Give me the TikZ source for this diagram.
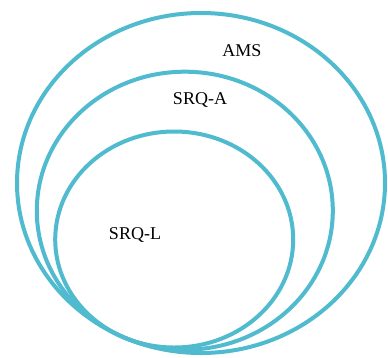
\documentclass[tikz,border=0pt]{standalone}
\usepackage{fontspec}
\setmainfont{Liberation Serif}
\definecolor{ring}{RGB}{80,186,206}
\begin{document}
\begin{tikzpicture}[x=1pt,y=-1pt,
  ringline/.style={draw=ring,line width=4pt},
  lbl/.style={font=\fontsize{18}{20}\selectfont,inner sep=0pt}]
\useasboundingbox (0,0) rectangle (388,357);
\draw[ringline] (201,183) ellipse [x radius=184, y radius=170];
\draw[ringline] (184.8,210.7) ellipse [x radius=148, y radius=139];
\draw[ringline] (174.2,239.5) ellipse [x radius=119, y radius=108];
\node[lbl] (ams) at (242,51) {AMS};
\node[lbl] (srqa) at (200,100) {SRQ-A};
\node[lbl] (srql) at (135,235) {SRQ-L};
\end{tikzpicture}
\end{document}
